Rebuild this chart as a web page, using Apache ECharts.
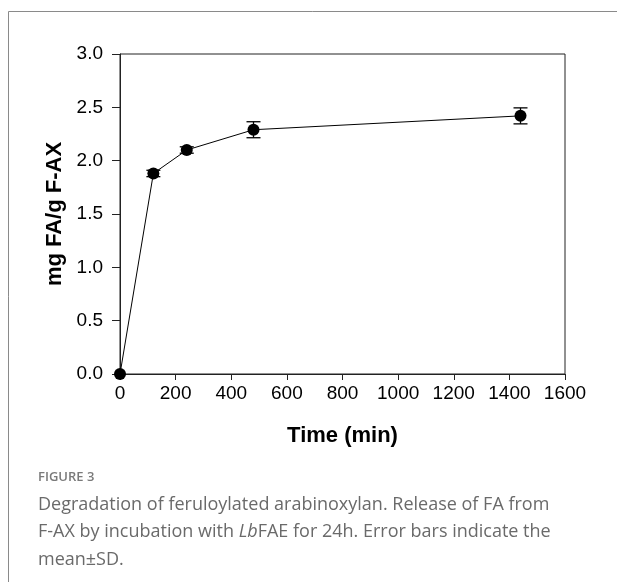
<!DOCTYPE html>
<html>
<head>
<meta charset="utf-8">
<script src="https://cdn.jsdelivr.net/npm/echarts@6/dist/echarts.min.js"></script>
<style>
  html, body { margin: 0; padding: 0; background: #fff; }
  #main { width: 617px; height: 582px; }
</style>
</head>
<body>
<div id="main"></div>
<script>
// time points (min) and released FA (mg FA/g F-AX)
var timeMin = [0, 120, 240, 480, 1440];
var faValue = [0, 1.88, 2.10, 2.29, 2.42];
var faSd = [0, 0.03, 0.03, 0.075, 0.075];
var xTicks = [0, 200, 400, 600, 800, 1000, 1200, 1400, 1600];
var yTicks = [0.0, 0.5, 1.0, 1.5, 2.0, 2.5, 3.0];

var points = timeMin.map(function (t, i) { return [t, faValue[i]]; });
var errData = timeMin.map(function (t, i) { return [t, faValue[i] - faSd[i], faValue[i] + faSd[i]]; });

var axisColor = '#222';
var capColor = '#6a6a6a';

var chart = echarts.init(document.getElementById('main'));

var option = {
    backgroundColor: '#fff',
    animation: false,
    grid: {
        left: 120, top: 54, right: 52, bottom: 208,
        show: true, borderColor: axisColor, borderWidth: 1
    },
    xAxis: {
        type: 'value',
        min: xTicks[0], max: xTicks[xTicks.length - 1], interval: 200,
        name: 'Time (min)',
        nameLocation: 'middle',
        nameGap: 51,
        nameTextStyle: { fontFamily: 'Liberation Sans', fontWeight: 'bold', fontSize: 22, color: '#000' },
        axisLine: { lineStyle: { color: axisColor, width: 1 } },
        axisTick: { length: 6, lineStyle: { color: axisColor } },
        axisLabel: {
            fontFamily: 'Liberation Sans', fontSize: 19, color: '#000', margin: 10,
            formatter: function (v) { return String(v); }
        },
        splitLine: { show: false }
    },
    yAxis: {
        type: 'value',
        min: yTicks[0], max: yTicks[yTicks.length - 1], interval: 0.5,
        name: 'mg FA/g F-AX',
        nameLocation: 'middle',
        nameGap: 53,
        nameTextStyle: { fontFamily: 'Liberation Sans', fontWeight: 'bold', fontSize: 22, color: '#000' },
        axisLine: { show: true, lineStyle: { color: axisColor, width: 1 } },
        axisTick: { show: true, length: 8, lineStyle: { color: axisColor } },
        axisLabel: {
            fontFamily: 'Liberation Sans', fontSize: 19, color: '#000', margin: 17,
            formatter: function (v) { return v.toFixed(1); }
        },
        splitLine: { show: false }
    },
    series: [
        {
            type: 'line',
            data: points,
            symbol: 'circle',
            symbolSize: 12,
            lineStyle: { color: '#000', width: 1 },
            itemStyle: { color: '#000' },
            z: 3
        },
        {
            type: 'custom',
            data: errData,
            z: 4,
            renderItem: function (params, api) {
                var x = api.value(0);
                var lo = api.coord([x, api.value(1)]);
                var hi = api.coord([x, api.value(2)]);
                if (hi[1] === lo[1]) return null;
                var w = 7;
                var st = { stroke: '#000', lineWidth: 1.3 };
                return {
                    type: 'group',
                    children: [
                        { type: 'line', shape: { x1: lo[0], y1: lo[1], x2: hi[0], y2: hi[1] }, style: st },
                        { type: 'line', shape: { x1: lo[0] - w, y1: lo[1], x2: lo[0] + w, y2: lo[1] }, style: st },
                        { type: 'line', shape: { x1: hi[0] - w, y1: hi[1], x2: hi[0] + w, y2: hi[1] }, style: st }
                    ]
                };
            }
        }
    ],
    graphic: [
        { type: 'polyline', shape: { points: [[8.5, 582], [8.5, 11.5], [617, 11.5]] },
          style: { stroke: '#8a8a8a', lineWidth: 1, fill: null } },
        { type: 'text', left: 38, top: 471,
          style: { text: 'FIGURE 3', fontFamily: 'Open Sans', fontSize: 13, fontWeight: 600, fill: '#7a7a7a' } },
        { type: 'text', left: 38, top: 491,
          style: {
              text: 'Degradation of feruloylated arabinoxylan. Release of FA from\nF-AX by incubation with {i|Lb}FAE for 24h. Error bars indicate the\nmean\u00b1SD.',
              fontFamily: 'Open Sans', fontSize: 18, lineHeight: 27.5, fill: capColor,
              rich: { i: { fontFamily: 'Open Sans', fontStyle: 'italic', fontSize: 18, fill: capColor } }
          } }
    ]
};

chart.setOption(option);
</script>
</body>
</html>
